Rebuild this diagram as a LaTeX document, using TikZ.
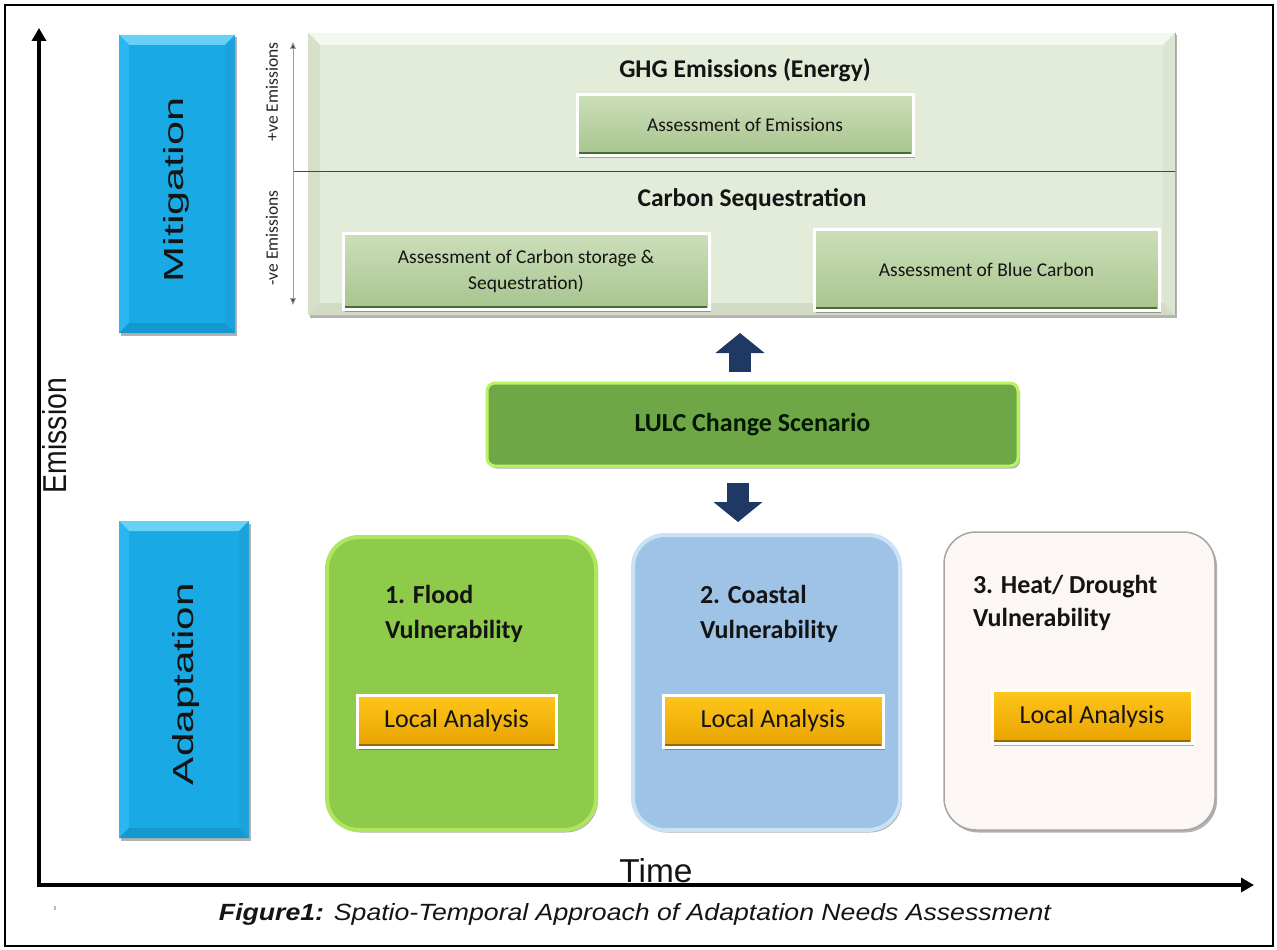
\documentclass[tikz,border=0pt]{standalone}
\usepackage{fontspec}
\newfontfamily\calfont{Carlito}
\newfontfamily\arifont{Liberation Sans}
\usetikzlibrary{calc,arrows.meta,shadows}

\definecolor{bluemain}{HTML}{19A9E4}
\definecolor{bluetop}{HTML}{67D2F6}
\definecolor{blueleft}{HTML}{2AB6EE}
\definecolor{blueright}{HTML}{1BA2DB}
\definecolor{bluebot}{HTML}{1597CF}
\definecolor{panelmain}{HTML}{E3EBD9}
\definecolor{paneltop}{HTML}{F3F7EE}
\definecolor{panelleft}{HTML}{D6E0CA}
\definecolor{panelright}{HTML}{DCE5D1}
\definecolor{panelbot}{HTML}{D2DCC5}
\definecolor{sgtop}{HTML}{CDDFBA}
\definecolor{sgbot}{HTML}{A7C48E}
\definecolor{sgline}{HTML}{4B6B36}
\definecolor{latop}{HTML}{FFC61A}
\definecolor{labot}{HTML}{E8A200}
\definecolor{laline}{HTML}{9A6A00}
\definecolor{floodfill}{HTML}{8ECB4B}
\definecolor{floodedge}{HTML}{AEE660}
\definecolor{coastfill}{HTML}{9EC3E6}
\definecolor{coastedge}{HTML}{C9E2F5}
\definecolor{heatfill}{HTML}{FCF7F4}
\definecolor{heatedge}{HTML}{AAA5A2}
\definecolor{lulcfill}{HTML}{6FA747}
\definecolor{lulcedge}{HTML}{B9F263}
\definecolor{navy}{HTML}{1F3864}
\definecolor{txt}{HTML}{141414}

% bevelled edges of a rectangular node: node, depth, top, left, right, bottom
\newcommand\mybevel[6]{%
  \fill[#3] (#1.north west) -- (#1.north east) -- ($(#1.north east)+(-#2,#2)$) -- ($(#1.north west)+(#2,#2)$) -- cycle;
  \fill[#4] (#1.north west) -- ($(#1.north west)+(#2,#2)$) -- ($(#1.south west)+(#2,-#2)$) -- (#1.south west) -- cycle;
  \fill[#5] (#1.north east) -- ($(#1.north east)+(-#2,#2)$) -- ($(#1.south east)+(-#2,-#2)$) -- (#1.south east) -- cycle;
  \fill[#6] (#1.south west) -- ($(#1.south west)+(#2,-#2)$) -- ($(#1.south east)+(-#2,-#2)$) -- (#1.south east) -- cycle;
}

\tikzset{
  every node/.style={inner sep=0pt, outer sep=0pt, text=txt},
  softshadow/.style={drop shadow={shadow xshift=2pt, shadow yshift=-2.5pt, opacity=0.3, fill=black}},
  bluebox/.style={fill=bluemain, softshadow},
  sidelabel/.style={rotate=90, font=\arifont},
  panelbox/.style={fill=panelmain, softshadow},
  subbox/.style={top color=sgtop, bottom color=sgbot, draw=white, line width=3pt, softshadow,
    align=center, font=\calfont\fontsize{19.5}{26}\selectfont},
  labox/.style={top color=latop, bottom color=labot, draw=white, line width=3pt, softshadow,
    font=\calfont\fontsize{26}{30}\selectfont},
  vulbox/.style={rounded corners=32pt, line width=4pt, softshadow},
  vtitle/.style={anchor=north west, align=left, font=\calfont\bfseries\fontsize{26}{35}\selectfont},
  heading/.style={font=\calfont\bfseries\fontsize{25.5}{30}\selectfont},
  emlabel/.style={rotate=90, font=\calfont\fontsize{17.5}{20}\selectfont, text=black!85},
  axisline/.style={line width=3.5pt, -{Triangle[length=13pt,width=14pt]}},
  blockarrow/.style={draw=navy, line width=22pt, -{Triangle[length=20pt,width=48pt]}},
}

\begin{document}
\begin{tikzpicture}[x=1pt,y=-1pt]
\useasboundingbox (0,0) rectangle (1277,950);
\fill[white] (0,0) rectangle (1277,950);

% outer frame
\draw[line width=2pt] (5,5) rectangle (1273,946);

% side category boxes
\node[bluebox, minimum width=116pt, minimum height=298pt] (mit) at (177,184) {};
\mybevel{mit}{10}{bluetop}{blueleft}{blueright}{bluebot}
\node[sidelabel] (mittext) at (176,190) {\resizebox{185pt}{20pt}{Mitigation}};

\node[bluebox, minimum width=130pt, minimum height=317pt] (ada) at (184,679.5) {};
\mybevel{ada}{10}{bluetop}{blueleft}{blueright}{bluebot}
\node[sidelabel] (adatext) at (186,684) {\resizebox{202pt}{21pt}{Adaptation}};

% mitigation panel
\node[panelbox, minimum width=867pt, minimum height=282pt] (panel) at (741.5,174) {};
\mybevel{panel}{12}{paneltop}{panelleft}{panelright}{panelbot}
\draw[gray!70, line width=0.8pt] (panel.north east) -- (panel.south east);

\coordinate (divL) at (293,171);
\draw[gray!55!black, line width=1pt] (divL) -- (divL -| panel.east);

\coordinate (emTop) at (293,42);
\coordinate (emBot) at (293,305);
\draw[gray!75, line width=0.9pt,
  {Triangle[length=7pt,width=6pt,fill=black!75]}-{Triangle[length=7pt,width=6pt,fill=black!75]}]
  (emTop) -- (emBot);
\node[emlabel] (pos) at (272,92) {+ve Emissions};
\node[emlabel] (neg) at (272,238) {-ve Emissions};

\node[heading] (ghg) at (745,70) {GHG Emissions (Energy)};
\node[subbox, minimum width=336pt, minimum height=61pt] (emis) at (745,124.5) {Assessment of Emissions};
\draw[sgline, line width=1.5pt] ($(emis.south west)+(2,-2)$) -- ($(emis.south east)+(-2,-2)$);

\node[heading] (cseq) at (752,200) {Carbon Sequestration};
\node[subbox, minimum width=366pt, minimum height=76pt] (cstore) at (526,271)
  {Assessment of Carbon storage \&\\Sequestration)};
\draw[sgline, line width=1.5pt] ($(cstore.south west)+(2,-2)$) -- ($(cstore.south east)+(-2,-2)$);
\node[subbox, minimum width=345pt, minimum height=81pt] (blue) at (986.5,269.5) {Assessment of Blue Carbon};
\draw[sgline, line width=1.5pt] ($(blue.south west)+(2,-2)$) -- ($(blue.south east)+(-2,-2)$);

% land use change scenario and its block arrows
\node[fill=lulcfill, draw=lulcedge, line width=3pt, rounded corners=8pt, softshadow,
  minimum width=531pt, minimum height=83pt, font=\calfont\bfseries\fontsize{26}{30}\selectfont,
  text=black!90!green] (lulc) at (752.5,424.5) {LULC Change Scenario};

\coordinate (upfoot) at (740,372);
\coordinate (uptip) at (740,333);
\draw[blockarrow] (upfoot) -- (uptip);
\coordinate (downfoot) at (738,483);
\coordinate (downtip) at (738,522);
\draw[blockarrow] (downfoot) -- (downtip);

% vulnerability boxes
\node[vulbox, fill=floodfill, draw=floodedge, minimum width=269pt, minimum height=293pt] (flood) at (461.5,683.5) {};
\node[vtitle] (floodt) at (385,585) {1. Flood\\Vulnerability};
\node[labox, minimum width=199pt, minimum height=52pt] (la1) at (456.5,721) {Local Analysis};
\draw[laline, line width=1.5pt] ($(la1.south west)+(2,-2)$) -- ($(la1.south east)+(-2,-2)$);

\node[vulbox, fill=coastfill, draw=coastedge, minimum width=267pt, minimum height=295pt] (coast) at (766.5,682.5) {};
\node[vtitle] (coastt) at (700,585) {2. Coastal\\Vulnerability};
\node[labox, minimum width=220pt, minimum height=52pt] (la2) at (773,721) {Local Analysis};
\draw[laline, line width=1.5pt] ($(la2.south west)+(2,-2)$) -- ($(la2.south east)+(-2,-2)$);

\node[vulbox, fill=heatfill, draw=heatedge, line width=1.5pt, minimum width=271pt, minimum height=298pt] (heat) at (1079.5,681) {};
\node[vtitle, font=\calfont\bfseries\fontsize{26}{33}\selectfont] (heatt) at (973,575) {3. Heat/ Drought\\Vulnerability};
\node[labox, minimum width=200pt, minimum height=53pt] (la3) at (1092,716.5) {Local Analysis};
\draw[laline, line width=1.5pt] ($(la3.south west)+(2,-2)$) -- ($(la3.south east)+(-2,-2)$);

% axes
\coordinate (origin) at (39,885);
\coordinate (ytip) at (39,28);
\coordinate (xtip) at (1254,885);
\draw[axisline] ($(origin)+(0,1.75)$) -- (ytip);
\draw[axisline] ($(origin)+(-1.75,0)$) -- (xtip);
\node[rotate=90, font=\arifont] (ylab) at (55,435.5) {\resizebox{115pt}{24pt}{Emission}};
\node[anchor=base, font=\arifont] (xlab) at (656,882) {\resizebox{73pt}{24pt}{Time}};

\fill[gray!55] (54,906) rectangle (56,910);

% caption
\node[anchor=base, font=\arifont\itshape] (caption) at (635,920)
  {\resizebox{832pt}{17pt}{\textbf{Figure1:} Spatio-Temporal Approach of Adaptation Needs Assessment}};
\end{tikzpicture}
\end{document}
